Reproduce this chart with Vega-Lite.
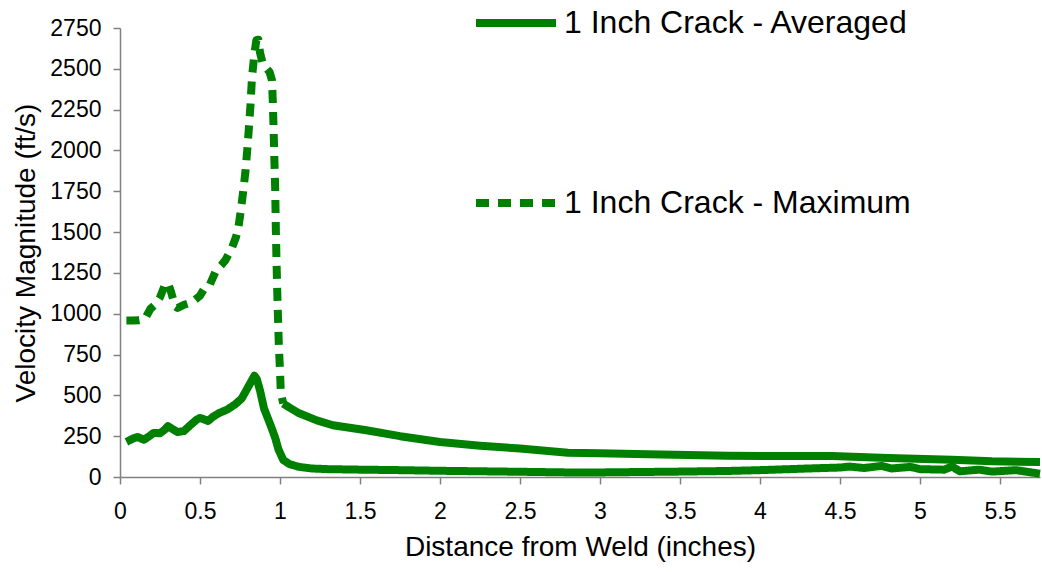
{
  "$schema": "https://vega.github.io/schema/vega-lite/v6.json",
  "width": 920,
  "height": 449,
  "autosize": {"type": "none"},
  "padding": {"left": 120, "top": 28, "right": 2, "bottom": 95},
  "background": "white",
  "config": {
    "view": {"stroke": null},
    "font": "Liberation Sans",
    "axis": {
      "grid": false,
      "domainColor": "#808080",
      "domainWidth": 1.5,
      "tickColor": "#808080",
      "tickWidth": 1.5,
      "tickSize": 7,
      "labelColor": "black",
      "labelFont": "Liberation Sans",
      "labelFontSize": 23,
      "titleFont": "Liberation Sans",
      "titleFontSize": 28,
      "titleFontWeight": "normal",
      "titleColor": "black"
    }
  },
  "data": {
    "values": [
      {"x": 0.04, "v": 215, "s": "1 Inch Crack - Averaged"},
      {"x": 0.08, "v": 235, "s": "1 Inch Crack - Averaged"},
      {"x": 0.11, "v": 245, "s": "1 Inch Crack - Averaged"},
      {"x": 0.15, "v": 228, "s": "1 Inch Crack - Averaged"},
      {"x": 0.19, "v": 255, "s": "1 Inch Crack - Averaged"},
      {"x": 0.21, "v": 270, "s": "1 Inch Crack - Averaged"},
      {"x": 0.25, "v": 268, "s": "1 Inch Crack - Averaged"},
      {"x": 0.28, "v": 290, "s": "1 Inch Crack - Averaged"},
      {"x": 0.30, "v": 312, "s": "1 Inch Crack - Averaged"},
      {"x": 0.33, "v": 292, "s": "1 Inch Crack - Averaged"},
      {"x": 0.36, "v": 275, "s": "1 Inch Crack - Averaged"},
      {"x": 0.40, "v": 282, "s": "1 Inch Crack - Averaged"},
      {"x": 0.44, "v": 318, "s": "1 Inch Crack - Averaged"},
      {"x": 0.48, "v": 352, "s": "1 Inch Crack - Averaged"},
      {"x": 0.50, "v": 362, "s": "1 Inch Crack - Averaged"},
      {"x": 0.52, "v": 355, "s": "1 Inch Crack - Averaged"},
      {"x": 0.55, "v": 343, "s": "1 Inch Crack - Averaged"},
      {"x": 0.58, "v": 368, "s": "1 Inch Crack - Averaged"},
      {"x": 0.62, "v": 392, "s": "1 Inch Crack - Averaged"},
      {"x": 0.67, "v": 413, "s": "1 Inch Crack - Averaged"},
      {"x": 0.72, "v": 445, "s": "1 Inch Crack - Averaged"},
      {"x": 0.76, "v": 480, "s": "1 Inch Crack - Averaged"},
      {"x": 0.80, "v": 550, "s": "1 Inch Crack - Averaged"},
      {"x": 0.84, "v": 620, "s": "1 Inch Crack - Averaged"},
      {"x": 0.855, "v": 600, "s": "1 Inch Crack - Averaged"},
      {"x": 0.875, "v": 530, "s": "1 Inch Crack - Averaged"},
      {"x": 0.90, "v": 420, "s": "1 Inch Crack - Averaged"},
      {"x": 0.94, "v": 320, "s": "1 Inch Crack - Averaged"},
      {"x": 0.97, "v": 240, "s": "1 Inch Crack - Averaged"},
      {"x": 0.99, "v": 170, "s": "1 Inch Crack - Averaged"},
      {"x": 1.02, "v": 105, "s": "1 Inch Crack - Averaged"},
      {"x": 1.06, "v": 78, "s": "1 Inch Crack - Averaged"},
      {"x": 1.12, "v": 62, "s": "1 Inch Crack - Averaged"},
      {"x": 1.2, "v": 52, "s": "1 Inch Crack - Averaged"},
      {"x": 1.3, "v": 48, "s": "1 Inch Crack - Averaged"},
      {"x": 1.5, "v": 45, "s": "1 Inch Crack - Averaged"},
      {"x": 1.75, "v": 42, "s": "1 Inch Crack - Averaged"},
      {"x": 2.0, "v": 38, "s": "1 Inch Crack - Averaged"},
      {"x": 2.5, "v": 32, "s": "1 Inch Crack - Averaged"},
      {"x": 2.8, "v": 28, "s": "1 Inch Crack - Averaged"},
      {"x": 3.0, "v": 28, "s": "1 Inch Crack - Averaged"},
      {"x": 3.5, "v": 33, "s": "1 Inch Crack - Averaged"},
      {"x": 3.8, "v": 37, "s": "1 Inch Crack - Averaged"},
      {"x": 4.0, "v": 42, "s": "1 Inch Crack - Averaged"},
      {"x": 4.3, "v": 52, "s": "1 Inch Crack - Averaged"},
      {"x": 4.5, "v": 58, "s": "1 Inch Crack - Averaged"},
      {"x": 4.56, "v": 64, "s": "1 Inch Crack - Averaged"},
      {"x": 4.65, "v": 55, "s": "1 Inch Crack - Averaged"},
      {"x": 4.76, "v": 68, "s": "1 Inch Crack - Averaged"},
      {"x": 4.82, "v": 52, "s": "1 Inch Crack - Averaged"},
      {"x": 4.94, "v": 62, "s": "1 Inch Crack - Averaged"},
      {"x": 5.0, "v": 48, "s": "1 Inch Crack - Averaged"},
      {"x": 5.15, "v": 45, "s": "1 Inch Crack - Averaged"},
      {"x": 5.2, "v": 64, "s": "1 Inch Crack - Averaged"},
      {"x": 5.25, "v": 35, "s": "1 Inch Crack - Averaged"},
      {"x": 5.37, "v": 45, "s": "1 Inch Crack - Averaged"},
      {"x": 5.45, "v": 33, "s": "1 Inch Crack - Averaged"},
      {"x": 5.6, "v": 42, "s": "1 Inch Crack - Averaged"},
      {"x": 5.75, "v": 20, "s": "1 Inch Crack - Averaged"},
      {"x": 0.04, "v": 958, "s": "1 Inch Crack - Maximum"},
      {"x": 0.08, "v": 958, "s": "1 Inch Crack - Maximum"},
      {"x": 0.12, "v": 960, "s": "1 Inch Crack - Maximum"},
      {"x": 0.155, "v": 966, "s": "1 Inch Crack - Maximum"},
      {"x": 0.19, "v": 1030, "s": "1 Inch Crack - Maximum"},
      {"x": 0.22, "v": 1055, "s": "1 Inch Crack - Maximum"},
      {"x": 0.25, "v": 1100, "s": "1 Inch Crack - Maximum"},
      {"x": 0.28, "v": 1175, "s": "1 Inch Crack - Maximum"},
      {"x": 0.30, "v": 1190, "s": "1 Inch Crack - Maximum"},
      {"x": 0.32, "v": 1130, "s": "1 Inch Crack - Maximum"},
      {"x": 0.345, "v": 1045, "s": "1 Inch Crack - Maximum"},
      {"x": 0.36, "v": 1035, "s": "1 Inch Crack - Maximum"},
      {"x": 0.40, "v": 1055, "s": "1 Inch Crack - Maximum"},
      {"x": 0.45, "v": 1070, "s": "1 Inch Crack - Maximum"},
      {"x": 0.50, "v": 1110, "s": "1 Inch Crack - Maximum"},
      {"x": 0.53, "v": 1160, "s": "1 Inch Crack - Maximum"},
      {"x": 0.56, "v": 1175, "s": "1 Inch Crack - Maximum"},
      {"x": 0.60, "v": 1265, "s": "1 Inch Crack - Maximum"},
      {"x": 0.635, "v": 1300, "s": "1 Inch Crack - Maximum"},
      {"x": 0.66, "v": 1330, "s": "1 Inch Crack - Maximum"},
      {"x": 0.70, "v": 1405, "s": "1 Inch Crack - Maximum"},
      {"x": 0.725, "v": 1470, "s": "1 Inch Crack - Maximum"},
      {"x": 0.74, "v": 1530, "s": "1 Inch Crack - Maximum"},
      {"x": 0.755, "v": 1630, "s": "1 Inch Crack - Maximum"},
      {"x": 0.77, "v": 1750, "s": "1 Inch Crack - Maximum"},
      {"x": 0.785, "v": 1880, "s": "1 Inch Crack - Maximum"},
      {"x": 0.795, "v": 2000, "s": "1 Inch Crack - Maximum"},
      {"x": 0.805, "v": 2130, "s": "1 Inch Crack - Maximum"},
      {"x": 0.815, "v": 2270, "s": "1 Inch Crack - Maximum"},
      {"x": 0.825, "v": 2450, "s": "1 Inch Crack - Maximum"},
      {"x": 0.84, "v": 2590, "s": "1 Inch Crack - Maximum"},
      {"x": 0.852, "v": 2675, "s": "1 Inch Crack - Maximum"},
      {"x": 0.865, "v": 2678, "s": "1 Inch Crack - Maximum"},
      {"x": 0.875, "v": 2600, "s": "1 Inch Crack - Maximum"},
      {"x": 0.89, "v": 2540, "s": "1 Inch Crack - Maximum"},
      {"x": 0.91, "v": 2510, "s": "1 Inch Crack - Maximum"},
      {"x": 0.935, "v": 2480, "s": "1 Inch Crack - Maximum"},
      {"x": 0.95, "v": 2430, "s": "1 Inch Crack - Maximum"},
      {"x": 0.955, "v": 2300, "s": "1 Inch Crack - Maximum"},
      {"x": 0.96, "v": 2130, "s": "1 Inch Crack - Maximum"},
      {"x": 0.965, "v": 1940, "s": "1 Inch Crack - Maximum"},
      {"x": 0.97, "v": 1760, "s": "1 Inch Crack - Maximum"},
      {"x": 0.974, "v": 1520, "s": "1 Inch Crack - Maximum"},
      {"x": 0.978, "v": 1330, "s": "1 Inch Crack - Maximum"},
      {"x": 0.983, "v": 1130, "s": "1 Inch Crack - Maximum"},
      {"x": 0.988, "v": 960, "s": "1 Inch Crack - Maximum"},
      {"x": 0.993, "v": 800, "s": "1 Inch Crack - Maximum"},
      {"x": 1.0, "v": 650, "s": "1 Inch Crack - Maximum"},
      {"x": 1.005, "v": 520, "s": "1 Inch Crack - Maximum"},
      {"x": 1.02, "v": 450, "s": "1 Inch Crack - Maximum"},
      {"x": 1.06, "v": 425, "s": "1 Inch Crack - Maximum"},
      {"x": 1.12, "v": 390, "s": "1 Inch Crack - Maximum"},
      {"x": 1.23, "v": 347, "s": "1 Inch Crack - Maximum"},
      {"x": 1.33, "v": 317, "s": "1 Inch Crack - Maximum"},
      {"x": 1.54, "v": 286, "s": "1 Inch Crack - Maximum"},
      {"x": 1.75, "v": 250, "s": "1 Inch Crack - Maximum"},
      {"x": 2.0, "v": 214, "s": "1 Inch Crack - Maximum"},
      {"x": 2.25, "v": 192, "s": "1 Inch Crack - Maximum"},
      {"x": 2.5, "v": 174, "s": "1 Inch Crack - Maximum"},
      {"x": 2.8, "v": 148, "s": "1 Inch Crack - Maximum"},
      {"x": 3.0, "v": 145, "s": "1 Inch Crack - Maximum"},
      {"x": 3.3, "v": 139, "s": "1 Inch Crack - Maximum"},
      {"x": 3.8, "v": 130, "s": "1 Inch Crack - Maximum"},
      {"x": 4.2, "v": 128, "s": "1 Inch Crack - Maximum"},
      {"x": 4.45, "v": 128, "s": "1 Inch Crack - Maximum"},
      {"x": 4.8, "v": 116, "s": "1 Inch Crack - Maximum"},
      {"x": 5.2, "v": 106, "s": "1 Inch Crack - Maximum"},
      {"x": 5.45, "v": 96, "s": "1 Inch Crack - Maximum"},
      {"x": 5.75, "v": 92, "s": "1 Inch Crack - Maximum"}
    ]
  },
  "encoding": {
    "x": {
      "field": "x",
      "type": "quantitative",
      "scale": {"domain": [0, 5.75], "nice": false},
      "axis": {
        "title": "Distance from Weld (inches)",
        "values": [0, 0.5, 1, 1.5, 2, 2.5, 3, 3.5, 4, 4.5, 5, 5.5],
        "format": "~g",
        "labelPadding": 16,
        "titlePadding": 10,
        "labelFlush": false
      }
    },
    "y": {
      "field": "v",
      "type": "quantitative",
      "scale": {"domain": [0, 2750], "nice": false},
      "axis": {
        "title": "Velocity Magnitude (ft/s)",
        "values": [0, 250, 500, 750, 1000, 1250, 1500, 1750, 2000, 2250, 2500, 2750],
        "format": "d",
        "labelPadding": 12,
        "titlePadding": 9,
        "labelFlush": false
      }
    }
  },
  "layer": [
    {
      "transform": [{"filter": "datum.s == '1 Inch Crack - Averaged' || datum.x <= 1.02"}],
      "mark": {"type": "line", "color": "#008000", "strokeWidth": 8, "strokeJoin": "round"},
      "encoding": {
        "strokeDash": {
          "field": "s",
          "type": "nominal",
          "scale": {
            "domain": ["1 Inch Crack - Averaged", "1 Inch Crack - Maximum"],
            "range": [[1, 0], [13, 9]]
          },
          "legend": {
            "title": null,
            "orient": "none",
            "legendX": 352,
            "legendY": -49,
            "padding": 0,
            "symbolType": "stroke",
            "symbolSize": 6400,
            "symbolStrokeWidth": 8,
            "symbolStrokeColor": "#008000",
            "labelFontSize": 32,
            "labelFont": "Liberation Sans",
            "labelColor": "black",
            "labelLimit": 600,
            "labelOffset": 4,
            "rowPadding": 120
          }
        }
      }
    },
    {
      "transform": [{"filter": "datum.s == '1 Inch Crack - Maximum' && datum.x >= 1.02"}],
      "mark": {"type": "line", "color": "#008000", "strokeWidth": 8, "strokeJoin": "round"},
      "encoding": {}
    }
  ]
}
